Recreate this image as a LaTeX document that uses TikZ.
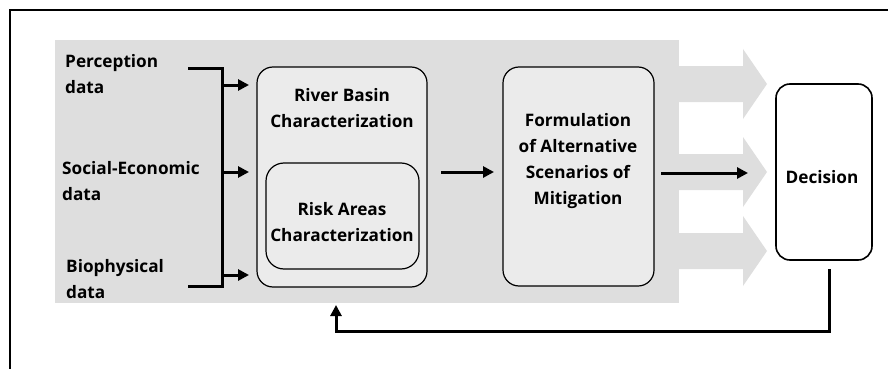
\documentclass[tikz,border=0pt]{standalone}
\usepackage{fontspec}
\setmainfont{Open Sans}
\usetikzlibrary{arrows.meta}
\definecolor{panel}{HTML}{DEDEDE}
\definecolor{boxfill}{HTML}{EBEBEB}
\tikzset{
  every node/.style={font=\bfseries\fontsize{17.2}{26}\selectfont, inner sep=0pt},
  roundbox/.style={draw=black, line width=1.2pt, fill=boxfill, rounded corners=16pt},
  lbl/.style={align=center},
  srclbl/.style={align=left, anchor=west},
  conn/.style={line width=3pt, -{Triangle[length=11pt,width=11pt]}},
  plain/.style={line width=3pt},
  fatarrow/.style={fill=panel, draw=none}
}
\begin{document}
\begin{tikzpicture}[x=1pt, y=-1pt]
\useasboundingbox (0,0) rectangle (888,369);
% frame (left and top edges)
\draw[line width=2.4pt] (10,369) -- (10,10) -- (888,10);
% shaded panel
\fill[panel] (55,40) rectangle (679,303);
% wide output arrows
\foreach \yc in {84,172,251}{
  \fill[fatarrow] (678,\yc-18) -- (743,\yc-18) -- (743,\yc-35) -- (767,\yc) -- (743,\yc+35) -- (743,\yc+18) -- (678,\yc+18) -- cycle;
}
% input labels
\node[srclbl] (perc) at (65,74) {Perception\\data};
\node[srclbl] (soc) at (62,181) {Social-Economic\\data};
\node[srclbl] (bio) at (66,279) {Biophysical\\data};
% main boxes
\node[roundbox, minimum width=170pt, minimum height=220pt] (rb) at (342,177) {};
\node[lbl] (rbt) at (342,108) {River Basin\\Characterization};
\node[roundbox, rounded corners=18pt, minimum width=153pt, minimum height=106pt] (ra) at (342.5,216) {};
\node[lbl] (rat) at (342,222) {Risk Areas\\Characterization};
\node[roundbox, minimum width=151pt, minimum height=219pt] (fm) at (578.5,176.5) {};
\node[lbl] (fmt) at (578,161.5) {Formulation\\of Alternative\\Scenarios of\\Mitigation};
\node[draw=black, line width=1.6pt, fill=white, rounded corners=14pt, minimum width=96pt, minimum height=176pt] (dec) at (824,172) {};
\node[lbl] (dect) at (822,177) {Decision};
% bracket gathering the inputs
\coordinate (bt) at (188,68);
\coordinate (bb) at (188,286);
\coordinate (bx1) at (222,68);
\coordinate (bx2) at (222,286);
\draw[plain] (bt) -- (bx1) -- (bx2) -- (bb);
\coordinate (a1) at (222,85);
\coordinate (a2) at (222,172);
\coordinate (a3) at (222,275);
\coordinate (e1) at (249,85);
\coordinate (e2) at (249,172);
\coordinate (e3) at (249,275);
\draw[conn] (a1) -- (e1);
\draw[conn] (a2) -- (e2);
\draw[conn] (a3) -- (e3);
% flow arrows
\coordinate (m1) at (441,172);
\coordinate (m2) at (494,172);
\draw[conn] (m1) -- (m2);
\coordinate (f1) at (661,173);
\coordinate (f2) at (748,173);
\draw[conn] (f1) -- (f2);
% feedback loop
\coordinate (fb0) at (829,269);
\coordinate (fb1) at (829,331);
\coordinate (fb2) at (336,331);
\coordinate (fb3) at (336,305);
\draw[conn] (fb0) -- (fb1) -- (fb2) -- (fb3);
\end{tikzpicture}
\end{document}
